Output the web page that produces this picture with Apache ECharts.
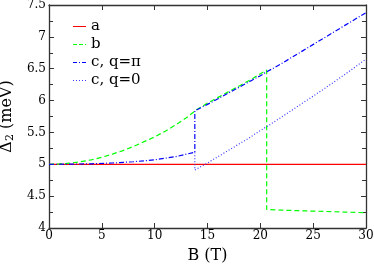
<!DOCTYPE html>
<html><head><meta charset="utf-8">
<script src="https://cdn.jsdelivr.net/npm/echarts@6/dist/echarts.min.js"></script>
<style>html,body{margin:0;padding:0;background:#fff}#c{width:374px;height:268px}</style>
</head><body><div id="c"></div>
<script>
const seriesNames = ['a', 'b', 'c, q=\u03c0', 'c, q=0'];
const aX = [0, 30];
const aY = [5, 5];
const bX = [0,1,2,3,4,5,6,7,8,9,10,11,12,13,14,15,16,17,18,19,20,20.6,20.6,22,24,26,28,30];
const bY = [5,5.005,5.018,5.04,5.07,5.11,5.16,5.215,5.28,5.355,5.43,5.52,5.62,5.73,5.86,5.96,6.05,6.14,6.23,6.32,6.42,6.48,4.29,4.28,4.27,4.26,4.25,4.24];
const cPiX = [0,2,4,6,8,10,12,13.8,13.8,15,16,17,18,19,20,20.6,22,24,26,28,30];
const cPiY = [5,5.002,5.008,5.02,5.04,5.07,5.12,5.19,5.84,5.94,6.03,6.12,6.21,6.30,6.39,6.45,6.58,6.78,6.98,7.18,7.38];
const c0X = [13.8,13.8,15,16,17,18,19,20,20.6,22,24,26,28,30];
const c0Y = [5.19,4.91,5.02,5.12,5.22,5.32,5.42,5.53,5.59,5.74,5.96,6.18,6.41,6.65];
const xTicks = [0,5,10,15,20,25,30];
const yTicks = [4,4.5,5,5.5,6,6.5,7,7.5];

const pair = (xs, ys) => xs.map((x, i) => [x, ys[i]]);
const F = 'DejaVu Serif';
const legendIcons = [
  'path://M0,0h13v1h-13z',
  'path://M0,0h4v1h-4zM6,0h4v1h-4zM12,0h1v1h-1z',
  'path://M0,0h4v1h-4zM6,0h1v1h-1zM9,0h4v1h-4z',
  'path://M0,0h1v1h-1zM3,0h1v1h-1zM6,0h1v1h-1zM9,0h1v1h-1zM12,0h1v1h-1z'
];
const colors = ['#ff0000', '#00ff00', '#0000ff', '#3a3aff'];
const yAxisCommon = {
  axisLine: {show: true, onZero: false, lineStyle: {color: '#333', width: 1.3}},
  axisTick: {show: true, inside: true, length: 5, lineStyle: {color: '#333'}},
  minorTick: {show: true, splitNumber: 2, length: 4, lineStyle: {color: '#333'}},
  splitLine: {show: false}
};
const xAxisCommon = {
  axisLine: {show: true, onZero: false, lineStyle: {color: '#333', width: 1.3}},
  axisTick: {show: true, inside: true, length: 5, lineStyle: {color: '#333'}},
  minorTick: {show: false},
  splitLine: {show: false}
};
const chart = echarts.init(document.getElementById('c'));
chart.setOption({
  animation: false,
  backgroundColor: '#fff',
  textStyle: {fontFamily: F},
  grid: {left: 49, right: 8, top: 5, bottom: 40, containLabel: false, outerBoundsMode: 'none'},
  legend: {
    left: 68, top: 14, orient: 'vertical', itemGap: 3, itemWidth: 13, itemHeight: 1.2,
    textStyle: {fontFamily: F, fontSize: 15, color: '#000'},
    data: seriesNames.map((n, i) => ({name: n, icon: legendIcons[i], itemStyle: {color: colors[i]}}))
  },
  xAxis: [
    Object.assign({type: 'value', min: 0, max: 30, interval: 5, position: 'bottom',
      name: 'B (T)', nameLocation: 'middle', nameGap: 20,
      nameTextStyle: {fontFamily: F, fontSize: 16, color: '#000'},
      axisLabel: {fontFamily: F, fontSize: 12, color: '#000', margin: 2,
        formatter: v => xTicks.includes(v) ? String(v) : ''}}, xAxisCommon),
    Object.assign({type: 'value', min: 0, max: 30, interval: 5, position: 'top',
      axisLabel: {show: false}}, xAxisCommon)
  ],
  yAxis: [
    Object.assign({type: 'value', min: 4, max: 7.5, interval: 0.5, position: 'left',
      name: '{n|\u0394}{s|2}{n| (meV)}', nameLocation: 'middle', nameGap: 24,
      nameTextStyle: {fontFamily: F, fontSize: 16, color: '#000',
        rich: {n: {fontFamily: F, fontSize: 16, color: '#000'},
               s: {fontFamily: F, fontSize: 11, color: '#000', padding: [8, 0, 0, 0]}}},
      axisLabel: {fontFamily: F, fontSize: 12, color: '#000', margin: 3,
        formatter: v => yTicks.includes(v) ? String(v) : ''}}, yAxisCommon),
    Object.assign({type: 'value', min: 4, max: 7.5, interval: 0.5, position: 'right',
      axisLabel: {show: false}}, yAxisCommon)
  ],
  series: [
    {name: seriesNames[0], type: 'line', data: pair(aX, aY), symbol: 'none', color: colors[0],
      lineStyle: {color: colors[0], width: 1.2, type: 'solid'}},
    {name: seriesNames[1], type: 'line', data: pair(bX, bY), symbol: 'none', color: colors[1],
      lineStyle: {color: colors[1], width: 1.2, type: [5, 3]}},
    {name: seriesNames[2], type: 'line', data: pair(cPiX, cPiY), symbol: 'none', color: colors[2],
      lineStyle: {color: colors[2], width: 1.2, type: [5, 2, 1, 2]}},
    {name: seriesNames[3], type: 'line', data: pair(c0X, c0Y), symbol: 'none', color: colors[3],
      lineStyle: {color: colors[3], width: 1.2, type: [1, 2]}}
  ]
});
</script></body></html>
